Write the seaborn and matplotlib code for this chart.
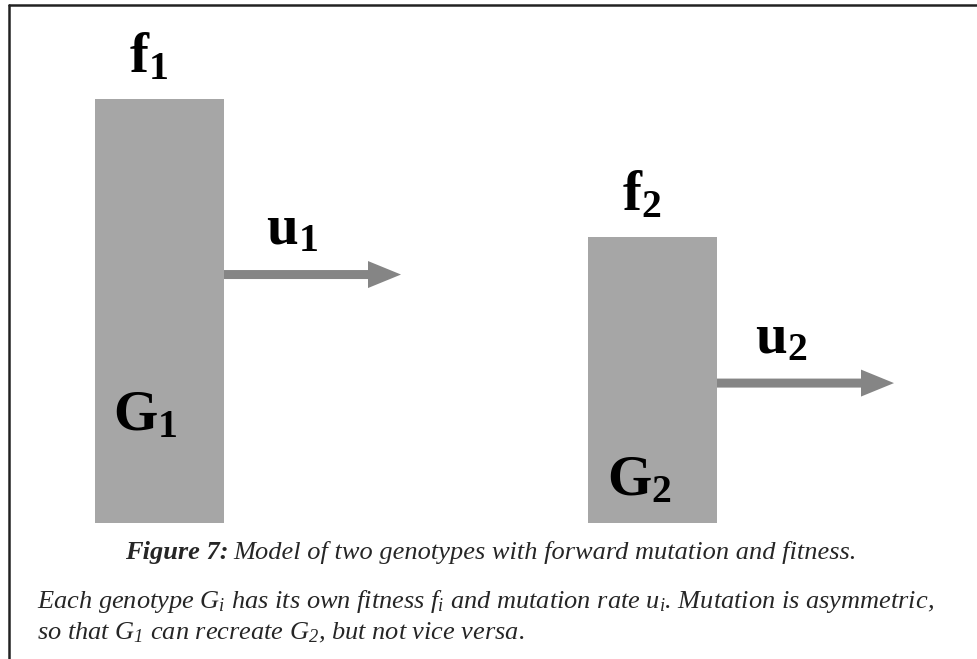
import matplotlib
matplotlib.use("Agg")
import matplotlib.pyplot as plt
import seaborn as sns
import pandas as pd
from matplotlib.patches import FancyArrow
from matplotlib.lines import Line2D

# two genotypes, relative fitness sets the bar height
genotypes = ["G1", "G2"]
fitness = [1.0, 0.675]
fitness_labels = [r"$\mathbf{f_1}$", r"$\mathbf{f_2}$"]
mutation_labels = [r"$\mathbf{u_1}$", r"$\mathbf{u_2}$"]
genotype_labels = [r"$\mathbf{G_1}$", r"$\mathbf{G_2}$"]
caption_bold = "Figure 7:"
caption_rest = "Model of two genotypes with forward mutation and fitness."
body_lines = [
    r"Each genotype $G_i$ has its own fitness $f_i$ and mutation rate $u_i$. Mutation is asymmetric,",
    r"so that $G_1$ can recreate $G_2$, but not vice versa.",
]

W, H = 977, 659
sns.set_theme(style="white")
plt.rcParams["font.family"] = ["Liberation Serif", "DejaVu Serif"]
plt.rcParams["mathtext.fontset"] = "custom"
plt.rcParams["mathtext.bf"] = "Liberation Serif:bold"
plt.rcParams["mathtext.it"] = "Liberation Serif:italic"
plt.rcParams["mathtext.rm"] = "Liberation Serif:italic"


def px(x, y):
    # pixel position (from top left) -> figure fraction
    return x / W, 1 - y / H


fig = plt.figure(figsize=(W / 100, H / 100), dpi=100)
ax = fig.add_axes([0, 0, 1, 1])

df = pd.DataFrame({"genotype": genotypes, "fitness": fitness})
sns.barplot(data=df, x="genotype", y="fitness", color="#a6a6a6", saturation=1,
            width=129 / 493, linewidth=0, ax=ax)
# one category step = 493 px, fitness 1.0 = 424 px
ax.set_xlim(-159.5 / 493, (W - 159.5) / 493)
ax.set_ylim(-(H - 523) / 424, 523 / 424)
ax.set_axis_off()

# mutation arrows leaving each bar
arrow_y = [0.586, 0.330]
for p, y in zip(ax.patches, arrow_y):
    x0 = p.get_x() + p.get_width()
    ax.add_patch(FancyArrow(x0, y, 177 / 493, 0, width=9 / 424, head_width=27 / 424,
                            head_length=33 / 493, length_includes_head=True,
                            color="#858585", lw=0))

lab = dict(ha="left", va="baseline", fontsize=41, color="black")
fig.text(*px(129, 72), fitness_labels[0], **lab)
fig.text(*px(622, 210), fitness_labels[1], **lab)
fig.text(*px(266, 244), mutation_labels[0], **lab)
fig.text(*px(755, 353), mutation_labels[1], **lab)
fig.text(*px(113, 430), genotype_labels[0], **lab)
fig.text(*px(607, 495), genotype_labels[1], **lab)

# caption
fs = 19
t1 = fig.text(*px(125, 559), caption_bold, fontsize=fs, style="italic",
              weight="bold", va="baseline")
fig.canvas.draw()
bb = t1.get_window_extent()
fig.text((bb.x1 + 5) / W, 1 - 559 / H, caption_rest, fontsize=fs,
         style="italic", va="baseline")

fig.text(*px(37, 608), body_lines[0], fontsize=fs, style="italic", va="baseline")
fig.text(*px(37, 639), body_lines[1], fontsize=fs, style="italic", va="baseline")

# frame lines (top and left)
fig.add_artist(Line2D([8.5 / W, 1], [1 - 5 / H, 1 - 5 / H], color="#222222", lw=1.8,
                      transform=fig.transFigure))
fig.add_artist(Line2D([8.5 / W, 8.5 / W], [1 - 5 / H, 0], color="#222222", lw=1.8,
                      transform=fig.transFigure))

fig.savefig("out.png", dpi=100)
